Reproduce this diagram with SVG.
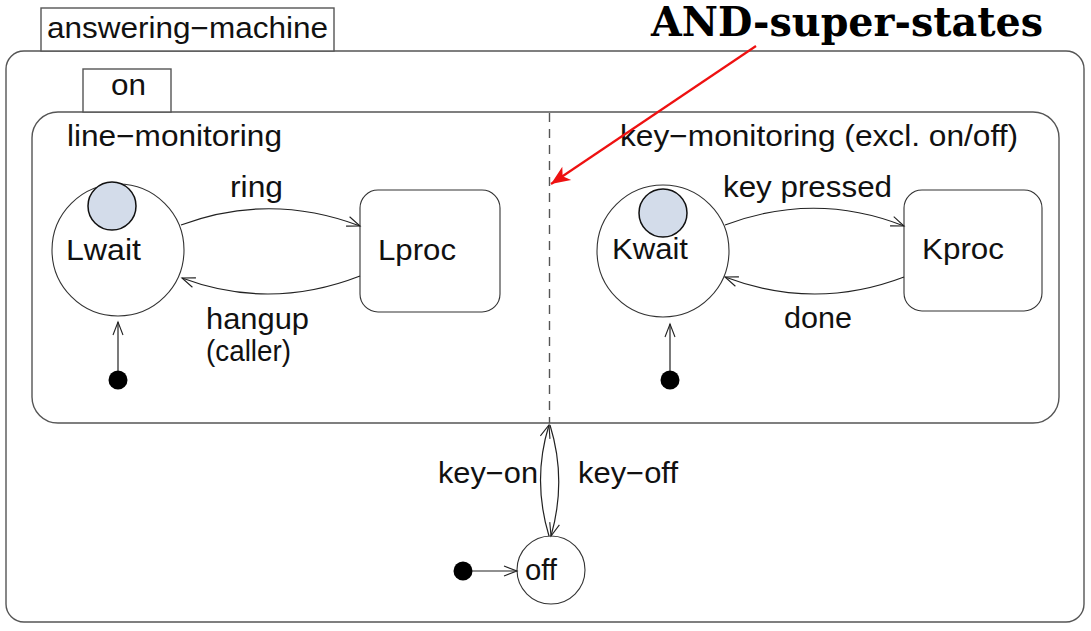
<svg xmlns="http://www.w3.org/2000/svg" width="1091" height="631" viewBox="0 0 1091 631">
<style>
  .box { fill: #ffffff; stroke: #555555; stroke-width: 1.4; }
  .state { fill: #ffffff; stroke: #333333; stroke-width: 1.1; }
  .hist { fill: #d3dcea; stroke: #111111; stroke-width: 1.5; }
  .dot { fill: #000000; }
  .tr { fill: none; stroke: #222222; stroke-width: 1.2; }
  .lbl { font-family: "Liberation Sans", Arial, sans-serif; font-size: 29px; fill: #111111; }
  .title { font-family: "DejaVu Serif", "Liberation Serif", serif; font-weight: bold; font-size: 41px; fill: #000000; }
</style>
<defs>
  <marker id="open" viewBox="-14 -7 16 14" refX="0" refY="0" markerWidth="16" markerHeight="14" markerUnits="userSpaceOnUse" orient="auto">
    <path d="M-13,-5 L0,0 L-13,5" fill="none" stroke="#222222" stroke-width="1.1"/>
  </marker>
  <marker id="red" viewBox="-20 -10 22 20" refX="0" refY="0" markerWidth="22" markerHeight="20" markerUnits="userSpaceOnUse" orient="auto">
    <path d="M0,0 L-19,-8 L-14,0 L-19,8 Z" fill="#ee1111"/>
  </marker>
</defs>

<g id="answering-machine">
  <rect class="box" x="6" y="51" width="1078" height="571" rx="18"/>
  <rect class="box" x="41" y="8" width="293" height="43"/>
  <text class="lbl" x="47" y="38" textLength="281" lengthAdjust="spacingAndGlyphs">answering−machine</text>
</g>

<g id="on">
  <rect class="box" x="32" y="112" width="1027" height="311" rx="26"/>
  <rect class="box" x="83" y="69" width="88" height="43"/>
  <text class="lbl" x="111" y="95" textLength="35" lengthAdjust="spacingAndGlyphs">on</text>
  <line x1="549.5" y1="113" x2="549.5" y2="423" stroke="#555555" stroke-width="1.4" stroke-dasharray="9 7"/>
</g>

<g id="line-monitoring">
  <text class="lbl" x="67" y="146" textLength="215" lengthAdjust="spacingAndGlyphs">line−monitoring</text>
</g>

<g id="key-monitoring">
  <text class="lbl" x="620" y="146" textLength="398" lengthAdjust="spacingAndGlyphs">key−monitoring (excl. on/off)</text>
</g>

<g id="Lwait">
  <circle class="state" cx="118" cy="250" r="66"/>
  <circle class="hist" cx="112" cy="206" r="24"/>
  <text class="lbl" x="66" y="260" font-size="31" textLength="75" lengthAdjust="spacingAndGlyphs">Lwait</text>
</g>

<g id="Lproc">
  <rect class="state" x="360" y="190" width="140" height="122" rx="18"/>
  <text class="lbl" x="378" y="260" font-size="31" textLength="78" lengthAdjust="spacingAndGlyphs">Lproc</text>
</g>

<g id="Kwait">
  <circle class="state" cx="663" cy="251" r="66"/>
  <circle class="hist" cx="663" cy="213" r="24"/>
  <text class="lbl" x="612" y="259" font-size="31" textLength="76" lengthAdjust="spacingAndGlyphs">Kwait</text>
</g>

<g id="Kproc">
  <rect class="state" x="904" y="190" width="138" height="121" rx="18"/>
  <text class="lbl" x="922" y="259" font-size="31" textLength="82" lengthAdjust="spacingAndGlyphs">Kproc</text>
</g>

<g id="off">
  <circle class="state" cx="551" cy="570" r="34"/>
  <text class="lbl" x="525" y="580" textLength="32" lengthAdjust="spacingAndGlyphs">off</text>
</g>

<g id="initials">
  <circle class="dot" cx="118" cy="380" r="9.5"/>
  <circle class="dot" cx="670" cy="380" r="9.5"/>
  <circle class="dot" cx="463" cy="571" r="9.5"/>
</g>

<g id="annotation">
  <text class="title" x="651" y="36" textLength="392" lengthAdjust="spacingAndGlyphs">AND-super-states</text>
  <line x1="756" y1="46" x2="551" y2="184" stroke="#ee1111" stroke-width="2.2" marker-end="url(#red)"/>
</g>

<g id="connectors">
  <path class="tr" d="M181,225 Q270,192 360,226" marker-end="url(#open)"/>
  <path class="tr" d="M360,276 Q270,311 182,278" marker-end="url(#open)"/>
  <path class="tr" d="M725,225 Q815,191 904,226" marker-end="url(#open)"/>
  <path class="tr" d="M904,277 Q815,311 725,277" marker-end="url(#open)"/>
  <line class="tr" x1="118" y1="371" x2="118" y2="322" marker-end="url(#open)"/>
  <line class="tr" x1="670" y1="371" x2="670" y2="324" marker-end="url(#open)"/>
  <line class="tr" x1="472" y1="571" x2="517" y2="571" marker-end="url(#open)"/>
  <path class="tr" d="M549,536 Q532,480 549,425" marker-end="url(#open)"/>
  <path class="tr" d="M550,425 Q567,480 551,536" marker-end="url(#open)"/>
  <text class="lbl" x="230" y="197" textLength="53" lengthAdjust="spacingAndGlyphs">ring</text>
  <text class="lbl" x="206" y="329" textLength="103" lengthAdjust="spacingAndGlyphs">hangup</text>
  <text class="lbl" x="206" y="361" font-size="26" textLength="85" lengthAdjust="spacingAndGlyphs">(caller)</text>
  <text class="lbl" x="723" y="197" textLength="169" lengthAdjust="spacingAndGlyphs">key pressed</text>
  <text class="lbl" x="784" y="328" textLength="68" lengthAdjust="spacingAndGlyphs">done</text>
  <text class="lbl" x="438" y="483" textLength="100" lengthAdjust="spacingAndGlyphs">key−on</text>
  <text class="lbl" x="578" y="483" textLength="100" lengthAdjust="spacingAndGlyphs">key−off</text>
</g>
</svg>
